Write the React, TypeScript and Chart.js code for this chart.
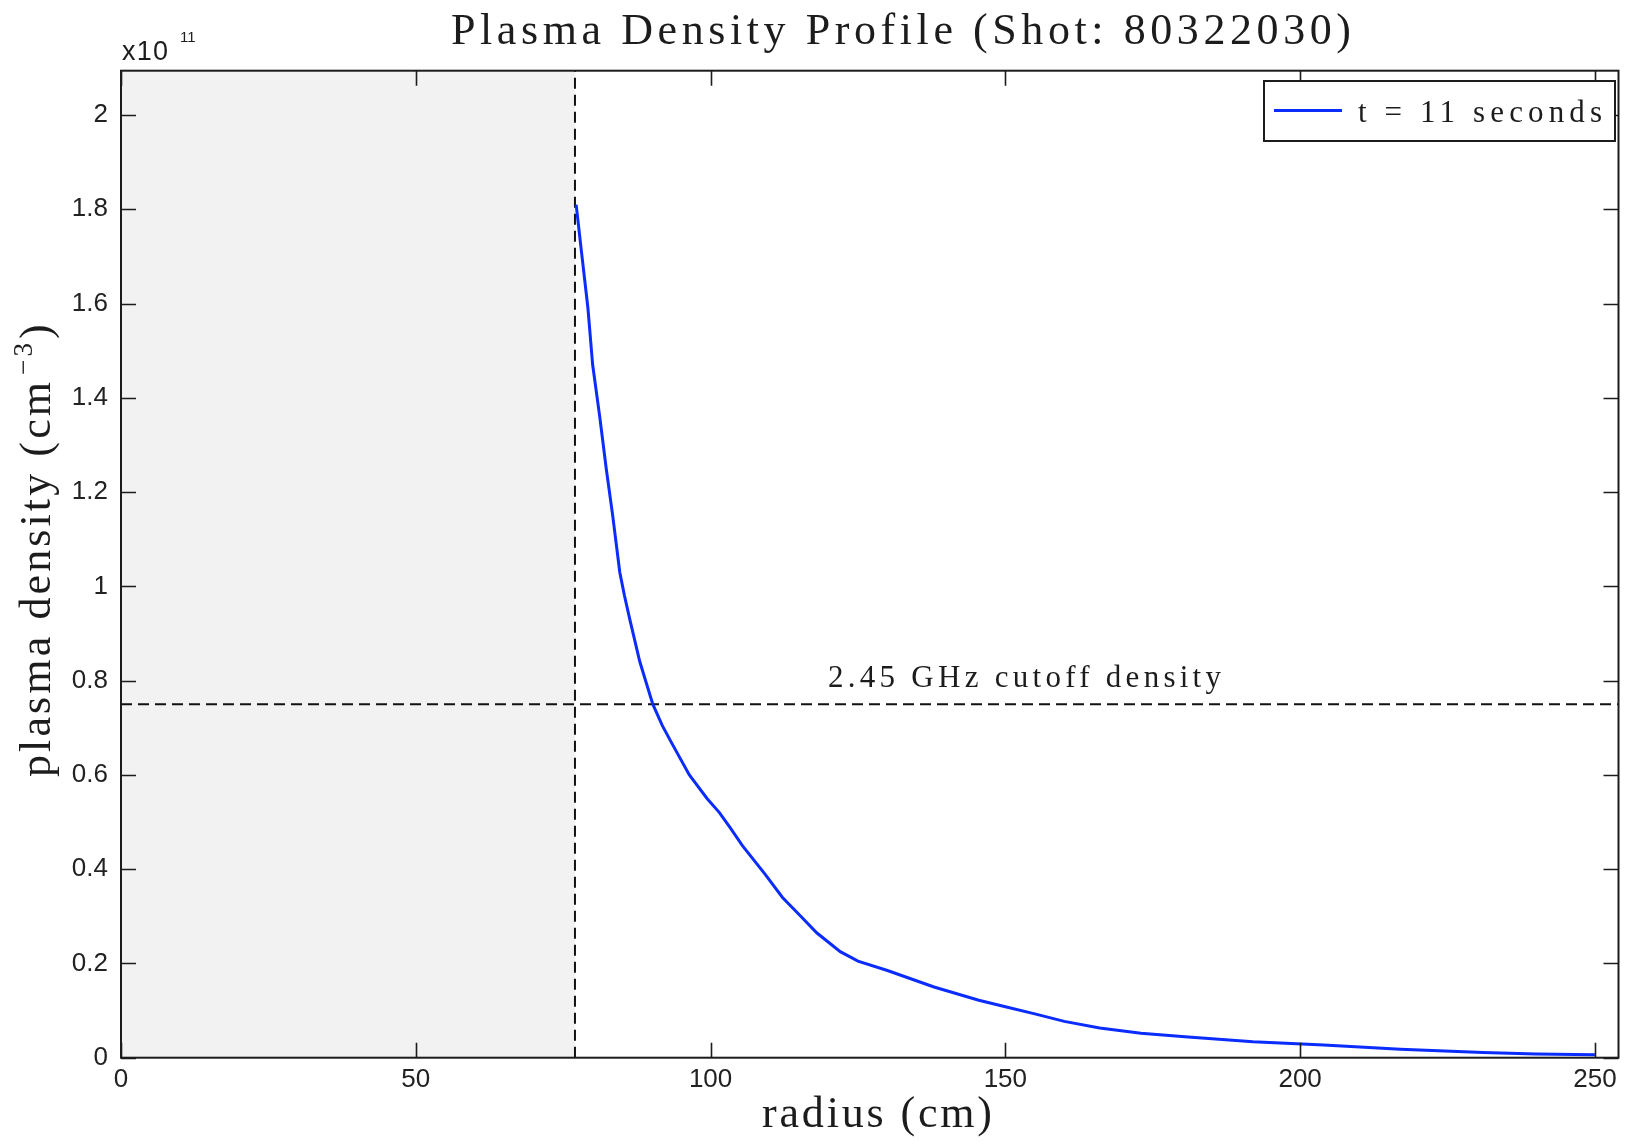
import React, { useEffect, useRef } from "react";
import { Chart, registerables } from "chart.js";

Chart.register(...registerables);

// ---- data (density in units of 1e11 cm^-3) ----
const radiusCm = [
  77.2, 78.1, 79.2, 80.0, 81.2, 82.3, 83.4, 84.6, 85.4, 86.3, 88.0, 90.2, 91.8, 93.3, 96.4, 99.4,
  101.5, 103.2, 105.4, 109.2, 112.2, 115.3, 118.0, 120.0, 122.0, 125.0, 130.0, 137.9,
  145.5, 150.0, 155.0, 160.0, 166.0, 173.0, 181.0, 192.0, 204.0, 217.0, 231.0, 240.0, 250.0,
];
const densityE11 = [
  1.81, 1.71, 1.59, 1.47, 1.36, 1.25, 1.15, 1.03, 0.98, 0.93, 0.84, 0.75, 0.705, 0.67, 0.6, 0.55,
  0.52, 0.49, 0.45, 0.39, 0.34, 0.3, 0.265, 0.245, 0.225, 0.205, 0.185, 0.15,
  0.122, 0.108, 0.093, 0.077, 0.063, 0.052, 0.044, 0.034, 0.027, 0.018, 0.011, 0.008, 0.006,
];
const xTickValues = [0, 50, 100, 150, 200, 250];
const yTickValues = [0, 0.2, 0.4, 0.6, 0.8, 1, 1.2, 1.4, 1.6, 1.8, 2];
const X_MAX = 254;
const Y_MAX = 2.094;
const WALL_RADIUS = 77.0;
const CUTOFF_DENSITY = 0.75;

const TITLE = "Plasma Density Profile (Shot: 80322030)";
const X_LABEL = "radius (cm)";
const Y_LABEL_MAIN = "plasma density (cm";
const Y_LABEL_SUP = "\u22123";
const Y_LABEL_END = ")";
const LEGEND_LABEL = "t = 11 seconds";
const CUTOFF_LABEL = "2.45 GHz cutoff density";
const EXPONENT_BASE = "x10";
const EXPONENT_POWER = "11";

const SERIF = "'Liberation Serif', 'DejaVu Serif', serif";
const SANS = "'Liberation Sans', Arial, sans-serif";
const BLUE = "#0a2cff";
const INK = "#1c1c1c";

function spacedText(
  ctx: CanvasRenderingContext2D,
  text: string,
  x: number,
  y: number,
  font: string,
  targetWidth: number | null
): void {
  ctx.save();
  ctx.font = font;
  (ctx as any).letterSpacing = "0px";
  if (targetWidth !== null) {
    const w0 = ctx.measureText(text).width;
    const n = text.length;
    const ls = n > 1 ? (targetWidth - w0) / (n - 1) : 0;
    (ctx as any).letterSpacing = ls + "px";
  }
  ctx.textAlign = "left";
  ctx.textBaseline = "alphabetic";
  ctx.fillText(text, x, y);
  ctx.restore();
}

const decorPlugin = {
  id: "decor",
  beforeDatasetsDraw(chart: any) {
    const { ctx, chartArea } = chart;
    const xs = chart.scales.x;
    const x0 = xs.getPixelForValue(0);
    const x1 = xs.getPixelForValue(WALL_RADIUS);
    ctx.save();
    ctx.fillStyle = "#f2f2f2";
    ctx.fillRect(x0, chartArea.top, x1 - x0, chartArea.bottom - chartArea.top);
    ctx.restore();
  },
  afterDatasetsDraw(chart: any) {
    const { ctx, chartArea } = chart;
    const xs = chart.scales.x;
    const ys = chart.scales.y;
    const { left, right, top, bottom } = chartArea;
    const TL = 15;
    ctx.save();
    ctx.strokeStyle = INK;
    ctx.lineWidth = 1.6;
    ctx.beginPath();
    for (const t of xs.ticks) {
      const px = Math.round(xs.getPixelForValue(t.value)) + 0.5;
      ctx.moveTo(px, bottom);
      ctx.lineTo(px, bottom - TL);
      ctx.moveTo(px, top);
      ctx.lineTo(px, top + TL);
    }
    for (const t of ys.ticks) {
      const py = Math.round(ys.getPixelForValue(t.value)) + 0.5;
      ctx.moveTo(left, py);
      ctx.lineTo(left + TL, py);
      ctx.moveTo(right, py);
      ctx.lineTo(right - TL, py);
    }
    ctx.stroke();
    ctx.lineWidth = 2;
    ctx.strokeRect(left, top, right - left, bottom - top);
    ctx.restore();
  },
  afterDraw(chart: any) {
    const { ctx } = chart;
    ctx.save();
    ctx.fillStyle = INK;

    // title
    spacedText(ctx, TITLE, 451, 44, `44px ${SERIF}`, 900);
    // x label
    spacedText(ctx, X_LABEL, 762, 1127, `44px ${SERIF}`, 230);
    // cutoff annotation
    spacedText(ctx, CUTOFF_LABEL, 828, 687, `31px ${SERIF}`, 393);

    // y label (rotated)
    ctx.save();
    ctx.translate(50, 777);
    ctx.rotate(-Math.PI / 2);
    spacedText(ctx, Y_LABEL_MAIN, 0, 0, `44px ${SERIF}`, 395);
    spacedText(ctx, Y_LABEL_SUP, 402, -18, `27px ${SERIF}`, 32);
    spacedText(ctx, Y_LABEL_END, 438, 0, `44px ${SERIF}`, 14);
    ctx.restore();

    // exponent label
    spacedText(ctx, EXPONENT_BASE, 122, 60, `27px ${SANS}`, 46);
    spacedText(ctx, EXPONENT_POWER, 180, 42, `15px ${SANS}`, null);

    // legend
    const lx0 = 1264, ly0 = 81, lx1 = 1615, ly1 = 141;
    ctx.fillStyle = "#ffffff";
    ctx.fillRect(lx0, ly0, lx1 - lx0, ly1 - ly0);
    ctx.strokeStyle = INK;
    ctx.lineWidth = 2;
    ctx.strokeRect(lx0, ly0, lx1 - lx0, ly1 - ly0);
    ctx.strokeStyle = BLUE;
    ctx.lineWidth = 3;
    ctx.beginPath();
    ctx.moveTo(1274, 110.5);
    ctx.lineTo(1342, 110.5);
    ctx.stroke();
    ctx.fillStyle = INK;
    spacedText(ctx, LEGEND_LABEL, 1358, 122, `31px ${SERIF}`, 244);
    ctx.restore();
  },
};

export default function App() {
  const canvasRef = useRef<HTMLCanvasElement | null>(null);

  useEffect(() => {
    const canvas = canvasRef.current;
    if (!canvas) return;
    const chart = new Chart(canvas, {
      type: "line",
      data: {
        datasets: [
          {
            label: LEGEND_LABEL,
            data: radiusCm.map((r, i) => ({ x: r, y: densityE11[i] })),
            borderColor: BLUE,
            borderWidth: 3,
            pointRadius: 0,
            tension: 0,
            fill: false,
          },
          {
            label: "wall",
            data: [
              { x: WALL_RADIUS, y: 0 },
              { x: WALL_RADIUS, y: Y_MAX },
            ],
            borderColor: "#111111",
            borderWidth: 2,
            borderDash: [11, 6],
            pointRadius: 0,
            fill: false,
          },
          {
            label: "cutoff",
            data: [
              { x: 0, y: CUTOFF_DENSITY },
              { x: X_MAX, y: CUTOFF_DENSITY },
            ],
            borderColor: "#111111",
            borderWidth: 2,
            borderDash: [11, 6],
            pointRadius: 0,
            fill: false,
          },
        ],
      },
      options: {
        responsive: false,
        animation: false,
        events: [],
        layout: { padding: { left: 0, top: 70.7, right: 10.5, bottom: 0 } },
        plugins: {
          legend: { display: false },
          title: { display: false },
          tooltip: { enabled: false },
        },
        scales: {
          x: {
            type: "linear",
            min: 0,
            max: X_MAX,
            afterFit: (s: any) => {
              s.height = 89.3;
            },
            afterBuildTicks: (s: any) => {
              s.ticks = xTickValues.map((v) => ({ value: v }));
            },
            grid: { display: false, drawTicks: false },
            border: { display: false },
            ticks: {
              padding: 7,
              maxRotation: 0,
              autoSkip: false,
              color: "#222222",
              font: { family: SANS, size: 26 },
              callback: (v: any) => String(v),
            },
          },
          y: {
            type: "linear",
            min: 0,
            max: Y_MAX,
            afterFit: (s: any) => {
              s.width = 121;
            },
            afterBuildTicks: (s: any) => {
              s.ticks = yTickValues.map((v) => ({ value: v }));
            },
            grid: { display: false, drawTicks: false },
            border: { display: false },
            ticks: {
              padding: 13,
              autoSkip: false,
              color: "#222222",
              font: { family: SANS, size: 26 },
              callback: (v: any) => String(+Number(v).toFixed(1)),
            },
          },
        },
      },
      plugins: [decorPlugin],
    } as any);
    return () => chart.destroy();
  }, []);

  return (
    <div style={{ position: "fixed", left: 0, top: 0, width: 1629, height: 1147, background: "#ffffff" }}>
      <canvas ref={canvasRef} width={1629} height={1147} style={{ display: "block" }} />
    </div>
  );
}
